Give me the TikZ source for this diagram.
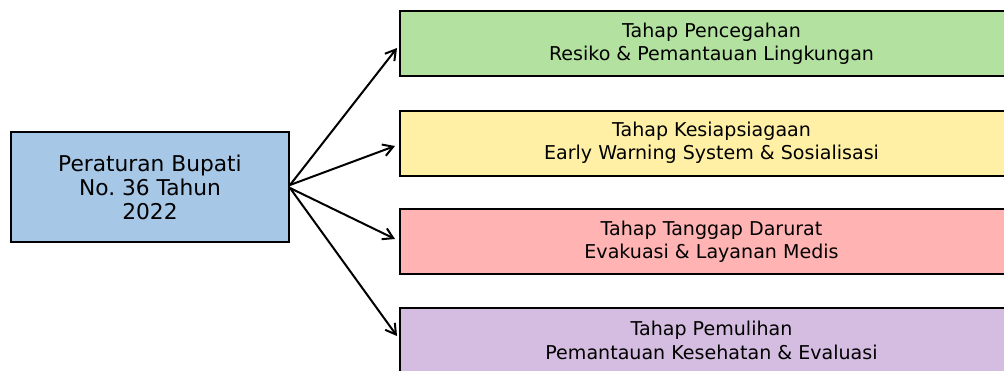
\documentclass[tikz,border=0pt]{standalone}
\usepackage{fontspec}
\setmainfont{DejaVu Sans}
\usetikzlibrary{arrows.meta}
\frenchspacing
\definecolor{cblue}{HTML}{A7C7E7}
\definecolor{cgreen}{HTML}{B3E2A0}
\definecolor{cyellow}{HTML}{FFF0A5}
\definecolor{cred}{HTML}{FFB3B3}
\definecolor{cpurple}{HTML}{D5BDE1}
\begin{document}
\begin{tikzpicture}[x=0.75pt,y=-0.75pt,
  box/.style={draw=black, line width=1.5pt, align=center, inner sep=0pt},
  srcbox/.style={box, minimum width=208.5pt, minimum height=82.5pt, font=\fontsize{16.3}{18}\selectfont},
  stagebox/.style={box, minimum width=467.25pt, minimum height=48.75pt, font=\fontsize{14.3}{17.6}\selectfont},
  link/.style={line width=1.5pt, -{Straight Barb[length=7.5pt,width=9pt,line width=1.5pt]}}]
\useasboundingbox (0,0) rectangle (1004,371);
\clip (0,0) rectangle (1004,371);
\node[srcbox, fill=cblue] (src) at (150,187) {Peraturan Bupati\\No. 36 Tahun\\2022};
\node[stagebox, fill=cgreen] (s1) at (711.5,43.5) {Tahap Pencegahan\\Resiko \& Pemantauan Lingkungan};
\node[stagebox, fill=cyellow] (s2) at (711.5,143) {Tahap Kesiapsiagaan\\Early Warning System \& Sosialisasi};
\node[stagebox, fill=cred] (s3) at (711.5,241.5) {Tahap Tanggap Darurat\\Evakuasi \& Layanan Medis};
\node[stagebox, fill=cpurple] (s4) at (711.5,340.5) {Tahap Pemulihan\\Pemantauan Kesehatan \& Evaluasi};
\coordinate (e1) at (397,48);
\coordinate (e2) at (395,146);
\coordinate (e3) at (395,239);
\coordinate (e4) at (397,336);
\coordinate (o1) at (290,185);
\coordinate (o2) at (290,188);
\draw[link] (o1) -- (e1);
\draw[link] (o1) -- (e2);
\draw[link] (o2) -- (e3);
\draw[link] (o2) -- (e4);
\end{tikzpicture}
\end{document}
